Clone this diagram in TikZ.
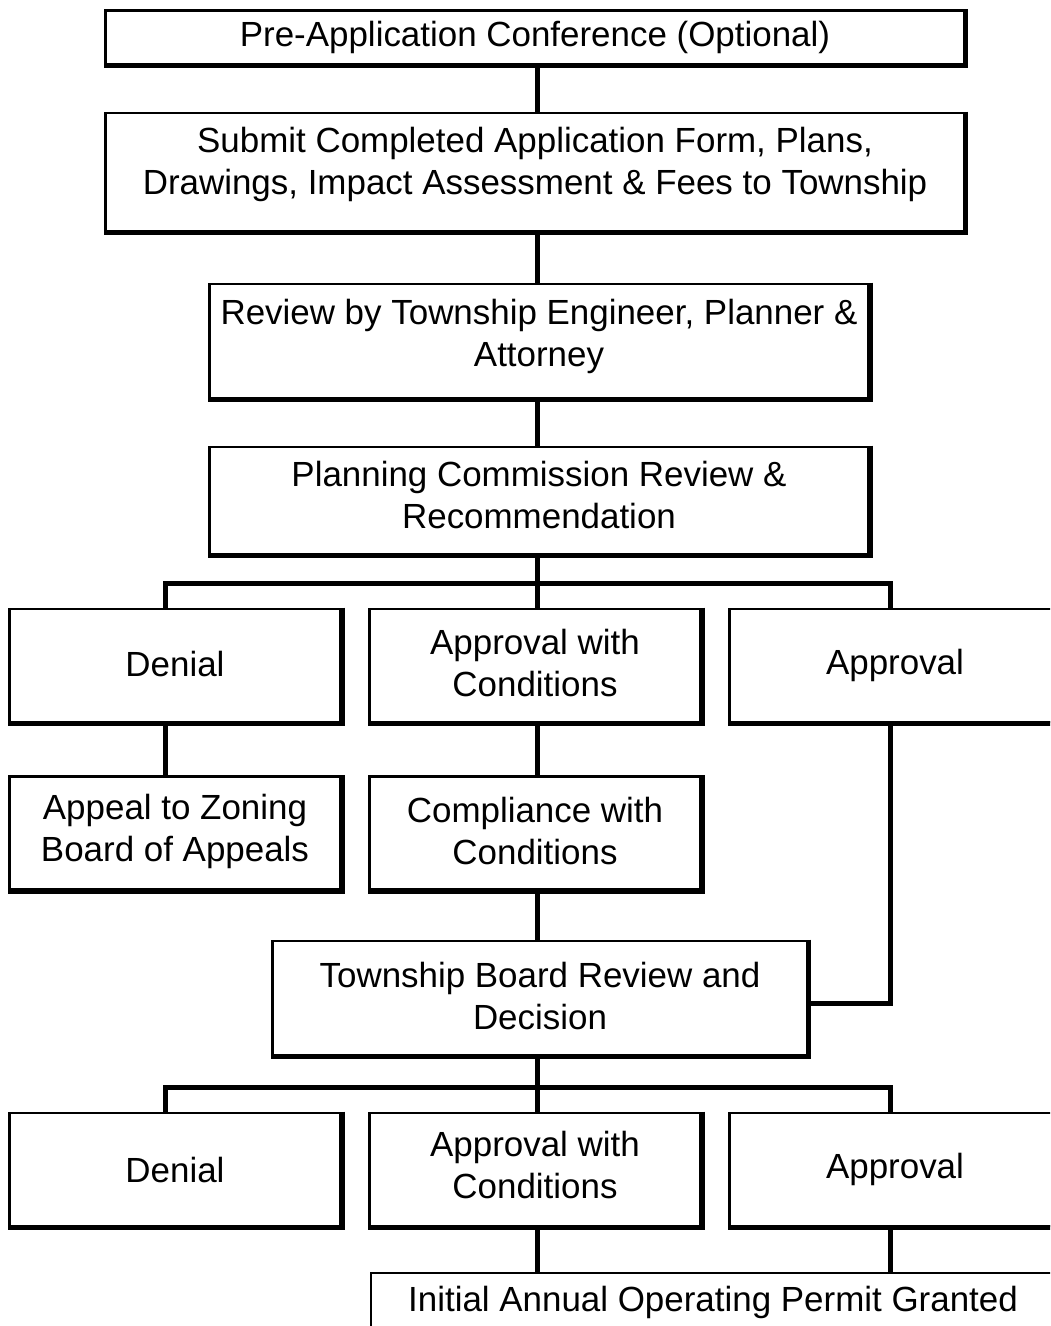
\documentclass[tikz,border=0pt]{standalone}
\usepackage{fontspec}
\setmainfont{Liberation Sans}
\begin{document}
\begin{tikzpicture}[x=0.75pt, y=-0.75pt,
  pbox/.style={draw, line width=1.9pt, fill=white, align=center, inner sep=0pt,
    font=\fontsize{26.2}{31.5}\selectfont},
  lift/.style={text depth=#1},
  half/.style={pbox, minimum width=248.6pt, minimum height=85pt},
  shade/.style={line width=4pt},
  conn/.style={line width=3.75pt}]
  \useasboundingbox (0,0) rectangle (1050,1326);
  \clip (0,0) rectangle (1050,1326);
  % \draw[lightgray,ultra thin] (0,0) grid (1050,1326);
  \node[pbox, minimum width=644pt, minimum height=40.5pt] (pre) at (535,37.5) {Pre-Application Conference (Optional)};
  \node[pbox, lift=16pt, minimum width=644pt, minimum height=88.5pt] (submit) at (535,172) {Submit Completed Application Form, Plans,\\Drawings, Impact Assessment \& Fees to Township};
  \node[pbox, lift=11.5pt, minimum width=494.6pt, minimum height=85.5pt] (review) at (539,341) {Review by Township Engineer, Planner \&\\Attorney};
  \node[pbox, lift=9pt, minimum width=494.6pt, minimum height=80.25pt] (planning) at (539,500.5) {Planning Commission Review \&\\Recommendation};
  \node[half, lift=3pt] (denialA) at (175,665.5) {Denial};
  \node[half, lift=4.5pt] (condA) at (535,665.5) {Approval with\\Conditions};
  \node[half] (approvalA) at (895,665.5) {Approval};
  \node[half, lift=7pt] (appeal) at (175,833) {Appeal to Zoning\\Board of Appeals};
  \node[half, lift=3pt] (comply) at (535,833) {Compliance with\\Conditions};
  \node[pbox, lift=3pt, minimum width=400.9pt, minimum height=85.5pt] (board) at (540,998) {Township Board Review and\\Decision};
  \node[half] (denialB) at (175,1169.5) {Denial};
  \node[half, lift=7.5pt] (condB) at (535,1169.5) {Approval with\\Conditions};
  \node[half] (approvalB) at (895,1169.5) {Approval};
  \node[pbox, minimum width=513pt, minimum height=44.25pt] (permit) at (713,1302.5) {Initial Annual Operating Permit Granted};
  \coordinate (brA) at (537,583);
  \coordinate (brB) at (537,1087);
  \draw[conn] (submit.north -| brA) -- (brA |- pre.south);
  \draw[conn] (submit.south -| brA) -- (brA |- review.north);
  \draw[conn] (review.south -| brA) -- (brA |- planning.north);
  \draw[conn] (planning.south -| brA) -- (brA);
  \draw[conn] ([xshift=-7.5pt]denialA.north) |- (brA) -| ([xshift=-3.75pt]approvalA.north);
  \draw[conn] (brA) -- (brA |- condA.north);
  \draw[conn] ([xshift=-7.5pt]denialA.south) -- ([xshift=-7.5pt]appeal.north);
  \draw[conn] (condA.south -| brA) -- (brA |- comply.north);
  \draw[conn] (comply.south -| brA) -- (brA |- board.north);
  \draw[conn] ([xshift=-3.75pt]approvalA.south) |- ([yshift=-3.75pt]board.east);
  \draw[conn] (board.south -| brA) -- (brB);
  \draw[conn] ([xshift=-7.5pt]denialB.north) |- (brB) -| ([xshift=-3.75pt]approvalB.north);
  \draw[conn] (brB) -- (brB |- condB.north);
  \draw[conn] (condB.south -| brB) -- (brB |- permit.north);
  \draw[conn] ([xshift=-3.75pt]approvalB.south) -- ([xshift=-3.75pt]approvalB.south |- permit.north);
  \foreach \n in {pre,submit,review,planning,denialA,condA,approvalA,appeal,comply,board,denialB,condB,approvalB,permit}
    \draw[shade] (\n.north east) -- (\n.south east) -- (\n.south west);
\end{tikzpicture}
\end{document}
